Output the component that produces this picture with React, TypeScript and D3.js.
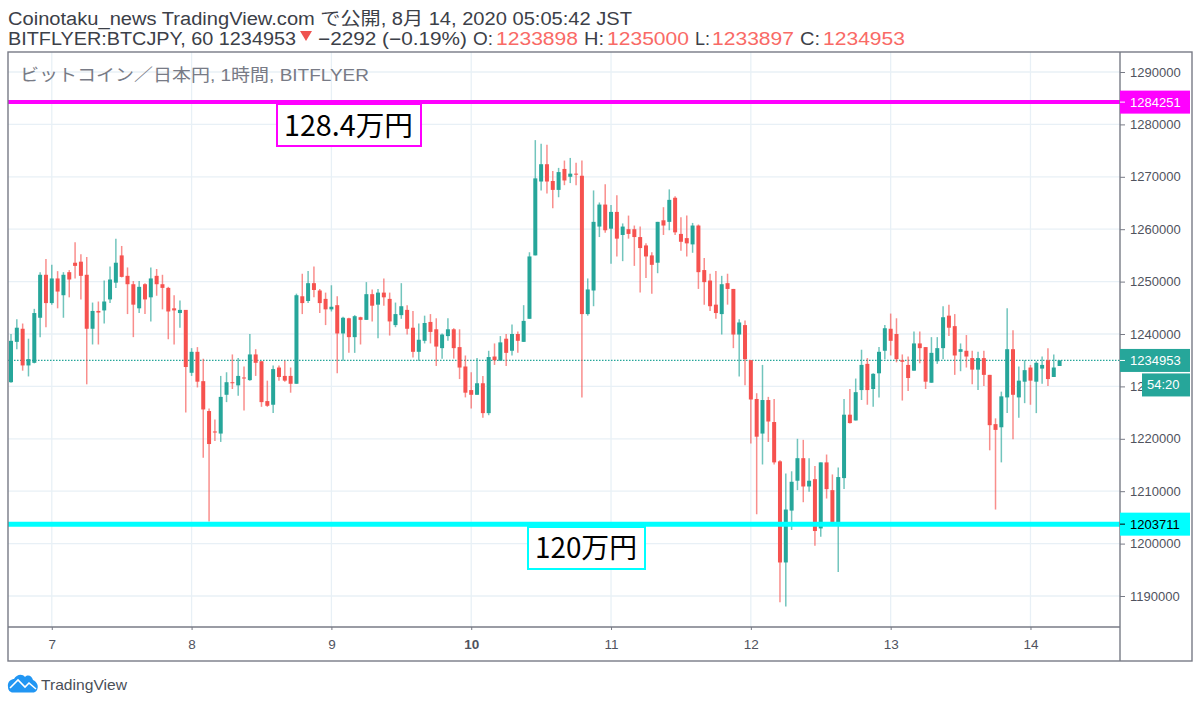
import { useEffect, useRef } from 'react';
import * as d3 from 'd3';

// All prices in thousands of yen, hourly bars, first bar is Aug 6 17:00 JST
const opens = [
  1230.8,1238.5,1241.0,1234.0,1234.5,1243.1,1251.3,1245.9,1250.6,1247.4,
  1251.8,1253.6,1253.8,1251.3,1241.0,1244.4,1244.5,1246.6,1249.8,1255.0,
  1251.1,1249.5,1244.9,1249.5,1247.0,1251.1,1249.5,1248.8,1244.9,1244.0,
  1244.6,1232.6,1236.6,1231.0,1225.3,1221.4,1221.0,1228.4,1230.8,1230.2,
  1231.7,1231.2,1236.1,1234.8,1227.2,1226.5,1233.6,1232.0,1232.0,1230.5,
  1247.2,1246.3,1249.7,1248.3,1246.7,1244.7,1245.5,1240.1,1243.0,1239.4,
  1243.2,1242.7,1247.6,1245.6,1247.9,1246.7,1241.7,1243.6,1244.6,1241.2,
  1236.6,1238.7,1242.3,1240.9,1237.3,1239.6,1240.9,1237.5,1233.8,1229.3,
  1228.4,1230.6,1224.9,1235.7,1234.9,1239.1,1236.8,1240.0,1238.5,1242.9,
  1255.0,1269.1,1272.4,1269.2,1267.5,1271.5,1270.0,1270.6,1270.2,1243.8,
  1248.3,1260.5,1264.7,1260.1,1263.3,1258.9,1260.0,1260.0,1258.5,1256.9,
  1255.0,1253.6,1261.7,1261.4,1266.0,1259.1,1258.3,1257.1,1260.7,1252.2,
  1250.2,1245.6,1243.8,1249.7,1248.6,1239.9,1241.7,1235.0,1227.6,1221.0,
  1227.4,1223.2,1215.7,1196.4,1206.3,1212.0,1216.3,1210.9,1212.3,1202.9,
  1215.5,1210.2,1204.0,1212.5,1224.6,1223.5,1229.3,1234.3,1229.5,1232.5,
  1236.8,1241.0,1240.0,1235.0,1234.1,1233.0,1238.2,1237.5,1230.7,1234.8,
  1237.3,1243.5,1241.5,1236.6,1236.8,1235.4,1233.2,1235.4,1232.2,1222.8,
  1222.2,1227.9,1237.1,1227.9,1230.9,1233.6,1230.9,1233.4,1235.0,1231.8,1233.898,
];

const highs = [
  1240.0,1242.8,1242.0,1239.1,1244.8,1251.8,1254.3,1253.2,1252.0,1251.8,
  1252.2,1257.5,1255.2,1254.7,1246.0,1246.2,1250.2,1252.9,1258.2,1256.8,
  1252.7,1250.1,1250.1,1249.7,1252.7,1252.4,1251.3,1249.0,1247.4,1246.4,
  1244.6,1237.3,1237.5,1235.3,1225.8,1223.7,1232.0,1232.7,1236.1,1235.4,
  1233.8,1240.0,1237.1,1234.8,1231.1,1234.0,1234.0,1234.9,1233.6,1247.7,
  1251.5,1252.0,1252.9,1248.6,1247.9,1249.3,1247.2,1243.3,1243.1,1243.6,
  1243.3,1249.9,1248.5,1248.6,1250.6,1247.9,1246.0,1249.7,1245.5,1244.4,
  1242.0,1243.5,1243.8,1243.0,1240.1,1243.0,1241.1,1240.9,1235.9,1232.7,
  1235.4,1232.0,1236.8,1238.2,1239.6,1240.0,1241.8,1240.5,1245.5,1255.6,
  1277.0,1276.3,1276.1,1271.1,1271.7,1273.1,1273.6,1272.7,1273.1,1250.6,
  1267.4,1265.1,1268.6,1264.6,1266.5,1261.1,1262.6,1260.7,1260.5,1257.3,
  1255.6,1261.4,1264.2,1267.6,1266.3,1262.3,1262.6,1261.2,1260.9,1254.5,
  1251.5,1252.0,1251.1,1251.5,1248.6,1242.8,1242.6,1235.0,1228.7,1234.1,
  1228.0,1227.6,1215.9,1213.4,1213.8,1220.0,1219.8,1216.3,1214.8,1215.5,
  1217.0,1213.2,1214.5,1227.6,1229.5,1231.5,1237.0,1235.4,1232.5,1237.5,
  1241.7,1243.9,1243.0,1236.1,1235.7,1240.5,1240.5,1237.5,1239.4,1239.4,
  1245.3,1245.6,1243.8,1238.2,1239.8,1236.8,1236.6,1236.8,1232.2,1223.9,
  1229.0,1244.9,1240.7,1233.8,1235.0,1234.1,1234.8,1235.7,1237.3,1236.1,1235.0,
];

const lows = [
  1230.7,1237.1,1233.0,1231.9,1234.4,1239.4,1241.3,1245.6,1244.9,1243.1,
  1247.0,1250.6,1246.6,1230.4,1238.0,1238.0,1242.0,1245.9,1248.8,1250.8,
  1243.8,1239.4,1244.0,1243.8,1242.4,1247.3,1244.7,1239.0,1238.0,1241.2,
  1225.0,1232.0,1229.8,1216.4,1204.2,1219.6,1219.4,1227.0,1229.5,1228.2,
  1225.4,1231.1,1232.0,1226.1,1226.1,1224.9,1231.1,1230.9,1228.8,1230.5,
  1243.8,1245.9,1247.0,1244.0,1241.7,1244.3,1232.5,1234.9,1236.4,1236.4,
  1238.0,1242.7,1242.4,1239.2,1245.4,1239.7,1241.3,1242.9,1239.9,1235.5,
  1234.9,1238.2,1238.2,1233.9,1235.3,1238.7,1235.3,1231.4,1227.9,1225.8,
  1228.4,1224.0,1224.5,1234.1,1234.9,1233.9,1235.9,1236.4,1238.5,1242.9,
  1255.0,1267.4,1266.8,1264.0,1266.1,1268.4,1268.8,1268.4,1227.9,1243.5,
  1245.3,1258.5,1259.3,1253.4,1254.8,1253.9,1258.2,1253.0,1247.9,1250.7,
  1247.7,1251.6,1258.9,1259.8,1258.9,1255.9,1254.8,1255.5,1248.6,1245.6,
  1244.4,1242.9,1239.9,1245.6,1237.3,1231.9,1230.2,1219.1,1205.6,1215.1,
  1219.4,1215.1,1188.8,1188.0,1202.6,1210.2,1207.9,1209.9,1199.6,1201.3,
  1208.6,1203.7,1194.6,1210.4,1222.9,1223.5,1227.4,1226.5,1226.1,1227.9,
  1235.2,1235.9,1234.6,1227.3,1229.1,1233.0,1234.4,1229.5,1230.7,1234.3,
  1235.2,1239.6,1232.2,1232.9,1233.6,1230.4,1229.3,1230.1,1217.8,1206.5,
  1215.5,1224.9,1219.9,1224.0,1226.8,1226.5,1224.9,1230.5,1230.1,1231.8,1233.897,
];

const closes = [
  1238.7,1241.2,1234.0,1235.2,1244.0,1251.3,1245.9,1250.6,1248.1,1251.3,
  1250.4,1253.0,1251.1,1241.0,1244.4,1244.1,1246.2,1250.4,1253.6,1250.9,
  1249.5,1245.6,1249.0,1246.6,1250.6,1249.5,1248.8,1244.3,1244.5,1244.6,
  1233.7,1236.6,1230.9,1225.6,1219.0,1221.2,1228.0,1230.8,1230.6,1232.0,
  1231.6,1236.1,1234.5,1227.0,1226.3,1233.3,1231.8,1231.1,1230.5,1247.4,
  1245.9,1249.7,1248.4,1245.9,1244.7,1245.2,1240.1,1243.1,1239.4,1243.4,
  1242.7,1247.6,1245.4,1247.9,1247.0,1242.4,1243.8,1245.3,1241.0,1236.6,
  1238.9,1242.1,1240.4,1237.6,1239.9,1240.9,1237.3,1233.6,1228.8,1228.4,
  1230.6,1224.9,1235.6,1235.0,1238.4,1236.4,1240.0,1238.7,1242.5,1254.8,
  1269.7,1272.4,1269.1,1267.5,1270.9,1269.3,1270.6,1270.5,1243.8,1248.5,
  1261.4,1264.7,1259.8,1263.3,1258.2,1260.5,1259.1,1258.5,1256.4,1254.8,
  1253.2,1261.4,1260.7,1265.6,1259.4,1257.6,1257.3,1260.7,1251.8,1249.9,
  1245.3,1244.0,1249.5,1248.6,1239.9,1242.2,1235.2,1227.5,1220.4,1227.4,
  1223.3,1215.5,1196.4,1206.5,1211.8,1216.3,1210.9,1212.0,1202.4,1215.5,
  1210.4,1203.7,1212.7,1224.6,1223.0,1228.9,1234.1,1229.3,1232.4,1236.6,
  1241.1,1238.7,1235.2,1234.7,1231.6,1238.2,1237.3,1230.9,1236.4,1237.3,
  1243.2,1241.2,1235.9,1237.1,1235.7,1233.2,1235.4,1232.2,1222.6,1221.7,
  1228.1,1237.1,1228.4,1231.1,1233.1,1231.1,1234.5,1234.1,1231.4,1233.6,1234.953,
];

const priceTicks = [1190, 1200, 1210, 1220, 1230, 1240, 1250, 1260, 1270, 1280, 1290];
const dayLabels = ['7', '8', '9', '10', '11', '12', '13', '14'];
const dayBars = [7, 31, 55, 79, 103, 127, 151, 175]; // bar index of midnight

const lastPrice = 1234.953;
const resistance = 1284.251;
const support = 1203.711;

const UI_FONT = '"Liberation Sans", "Noto Sans CJK JP", sans-serif';
const UP = '#26a69a';
const DOWN = '#f6524f';
const AXIS = '#787b86';
const GRID = '#e8f0f6';
const TEXT = '#3c4048';

export default function App() {
  const ref = useRef<SVGSVGElement>(null);

  useEffect(() => {
    if (!ref.current) return;
    const svg = d3.select(ref.current);
    svg.selectAll('*').remove();

    const plot = { left: 8, right: 1120, top: 52, bottom: 627, outer: 1192, foot: 661 };
    const x = d3.scaleLinear().domain([0, 180]).range([11, 1059.6]);
    const y = d3.scaleLinear().domain([1190, 1290]).range([596, 72]);

    svg.append('rect').attr('width', 1200).attr('height', 706).attr('fill', '#fff');

    // Grid
    svg.append('g').selectAll('line').data(priceTicks).enter().append('line')
      .attr('x1', plot.left).attr('x2', plot.right)
      .attr('y1', (d) => y(d)).attr('y2', (d) => y(d))
      .attr('stroke', GRID).attr('stroke-width', 1.3);
    svg.append('g').selectAll('line').data(dayBars).enter().append('line')
      .attr('x1', (d) => x(d)).attr('x2', (d) => x(d))
      .attr('y1', plot.top).attr('y2', plot.bottom)
      .attr('stroke', GRID).attr('stroke-width', 1.3);

    // Last price dotted line
    svg.append('line')
      .attr('x1', plot.left).attr('x2', plot.right)
      .attr('y1', y(lastPrice)).attr('y2', y(lastPrice))
      .attr('stroke', UP).attr('stroke-width', 1.2).attr('stroke-dasharray', '1.5,1.5');

    // Candles
    const bars = d3.range(opens.length);
    const colour = (i: number) => (closes[i] >= opens[i] ? UP : DOWN);
    svg.append('g').selectAll('line').data(bars).enter().append('line')
      .attr('x1', (i) => x(i)).attr('x2', (i) => x(i))
      .attr('y1', (i) => y(highs[i])).attr('y2', (i) => y(lows[i]))
      .attr('stroke', colour).attr('stroke-width', 1.5).attr('stroke-opacity', 0.65);
    svg.append('g').selectAll('rect').data(bars).enter().append('rect')
      .attr('x', (i) => x(i) - 2).attr('width', 4)
      .attr('y', (i) => y(Math.max(opens[i], closes[i])))
      .attr('height', (i) => Math.max(1, Math.abs(y(opens[i]) - y(closes[i]))))
      .attr('fill', colour);

    // Horizontal levels and their labels
    const levels = [
      { price: resistance, colour: '#ff00ff', width: 4, label: '128.4万円', box: [277, 104, 144, 42], tx: 284, ty: 136, len: 129 },
      { price: support, colour: '#00ffff', width: 5, label: '120万円', box: [528, 527, 117, 42], tx: 535, ty: 558, len: 102 },
    ];
    levels.forEach((l) => {
      svg.append('line')
        .attr('x1', plot.left).attr('x2', plot.right)
        .attr('y1', y(l.price)).attr('y2', y(l.price))
        .attr('stroke', l.colour).attr('stroke-width', l.width);
      svg.append('rect')
        .attr('x', l.box[0]).attr('y', l.box[1]).attr('width', l.box[2]).attr('height', l.box[3])
        .attr('fill', '#fff').attr('stroke', l.colour).attr('stroke-width', 2);
      svg.append('text')
        .attr('x', l.tx).attr('y', l.ty).text(l.label)
        .attr('textLength', l.len).attr('lengthAdjust', 'spacingAndGlyphs')
        .attr('fill', '#000').style('font-family', '"Noto Sans CJK JP", sans-serif').style('font-size', '28.5px');
    });

    // Price axis
    svg.append('g')
      .attr('transform', `translate(${plot.right},0)`)
      .call(d3.axisRight(y).tickValues(priceTicks).tickSize(5).tickPadding(5).tickFormat((d) => `${+d * 1000}`))
      .call((g) => g.select('.domain').remove())
      .call((g) => g.selectAll('line').attr('stroke', AXIS))
      .call((g) => g.selectAll('text').attr('fill', '#50535e').style('font-family', UI_FONT).style('font-size', '13px'));

    // Time axis
    svg.append('g')
      .attr('transform', `translate(0,${plot.bottom})`)
      .call(
        d3.axisBottom(x).tickValues(dayBars).tickSize(3).tickPadding(9)
          .tickFormat((_, i) => dayLabels[i])
      )
      .call((g) => g.select('.domain').remove())
      .call((g) => g.selectAll('line').attr('stroke', AXIS))
      .call((g) =>
        g.selectAll('text').attr('fill', '#50535e').style('font-family', UI_FONT).style('font-size', '13.5px')
          .style('font-weight', (_, i) => (dayLabels[i] === '10' ? 'bold' : 'normal'))
      );

    // Frame
    const frame = svg.append('g').attr('fill', 'none').attr('stroke', AXIS).attr('stroke-width', 1.4);
    frame.append('rect').attr('x', plot.left).attr('y', plot.top)
      .attr('width', plot.outer - plot.left).attr('height', plot.foot - plot.top);
    frame.append('line').attr('x1', plot.right).attr('x2', plot.right).attr('y1', plot.top).attr('y2', plot.foot);
    frame.append('line').attr('x1', plot.left).attr('x2', plot.right).attr('y1', plot.bottom).attr('y2', plot.bottom);

    // Price tags on the axis
    const tags = [
      { price: resistance, bg: '#ff00ff', fg: '#fff', text: '1284251' },
      { price: support, bg: '#00ffff', fg: '#000', text: '1203711' },
      { price: lastPrice, bg: UP, fg: '#fff', text: '1234953' },
    ];
    tags.forEach((t) => {
      const g = svg.append('g').attr('transform', `translate(${plot.right},${y(t.price)})`);
      g.append('rect').attr('x', 0).attr('y', -11.5).attr('width', 70).attr('height', 23).attr('fill', t.bg);
      g.append('line').attr('x1', 0).attr('x2', 5).attr('stroke', t.fg);
      g.append('text').attr('x', 10).attr('y', 4.5).text(t.text)
        .attr('fill', t.fg).style('font-family', UI_FONT).style('font-size', '13px');
    });
    const countdown = svg.append('g').attr('transform', `translate(1142,${y(lastPrice) + 13})`);
    countdown.append('rect').attr('width', 48).attr('height', 23).attr('fill', UP);
    countdown.append('text').attr('x', 5).attr('y', 16).text('54:20')
      .attr('fill', '#fff').style('font-family', UI_FONT).style('font-size', '13px');

    // Header, stretched to the widths of the original capture
    const header = svg.append('g').style('font-family', UI_FONT).style('font-size', '18px').attr('fill', TEXT);
    const headerTexts: [number, number, number, string, string][] = [
      [8, 25, 624, 'Coinotaku_news TradingView.com で公開, 8月 14, 2020 05:05:42 JST', TEXT],
      [8, 45, 288, 'BITFLYER:BTCJPY, 60 1234953', TEXT],
      [318, 45, 149, '−2292 (−0.19%)', TEXT],
      [473, 45, 20, 'O:', TEXT], [496, 45, 82, '1233898', '#f96a66'],
      [584, 45, 20, 'H:', TEXT], [607, 45, 82, '1235000', '#f96a66'],
      [695, 45, 15, 'L:', TEXT], [712, 45, 82, '1233897', '#f96a66'],
      [800, 45, 20, 'C:', TEXT], [823, 45, 82, '1234953', '#f96a66'],
    ];
    headerTexts.forEach(([tx, ty, len, label, fill]) => {
      header.append('text').attr('x', tx).attr('y', ty).text(label).attr('fill', fill)
        .attr('textLength', len).attr('lengthAdjust', 'spacingAndGlyphs');
    });
    svg.append('path').attr('d', 'M300,31 L312,31 L306,41 Z').attr('fill', '#ef5350');

    // Symbol legend in the pane
    svg.append('text').attr('x', 20).attr('y', 81)
      .text('ビットコイン／日本円, 1時間, BITFLYER')
      .attr('textLength', 349).attr('lengthAdjust', 'spacingAndGlyphs')
      .attr('fill', '#787b86').style('font-family', UI_FONT).style('font-size', '17px');

    // TradingView logo
    svg.append('path')
      .attr('d', 'M8,687 C7,681 12,679 14,679 C16,675 22,673 25,677 C28,674 32,676 33,680 C37,682 39,686 37,690 C36,692 34,692.5 33,692.5 L13,692.5 C10,692.5 8,690 8,687 Z')
      .attr('fill', '#2196f3');
    svg.append('path')
      .attr('d', 'M10,688 L18,680 L25,687 L29,683 L36,689')
      .attr('fill', 'none').attr('stroke', '#fff').attr('stroke-width', 1.6);
    svg.append('text').attr('x', 41).attr('y', 690).text('TradingView')
      .attr('textLength', 86).attr('lengthAdjust', 'spacingAndGlyphs')
      .attr('fill', '#4a4f58').style('font-family', UI_FONT).style('font-size', '15px');
  }, []);

  return <svg ref={ref} width={1200} height={706} style={{ position: 'absolute', left: 0, top: 0, display: 'block' }} />;
}
